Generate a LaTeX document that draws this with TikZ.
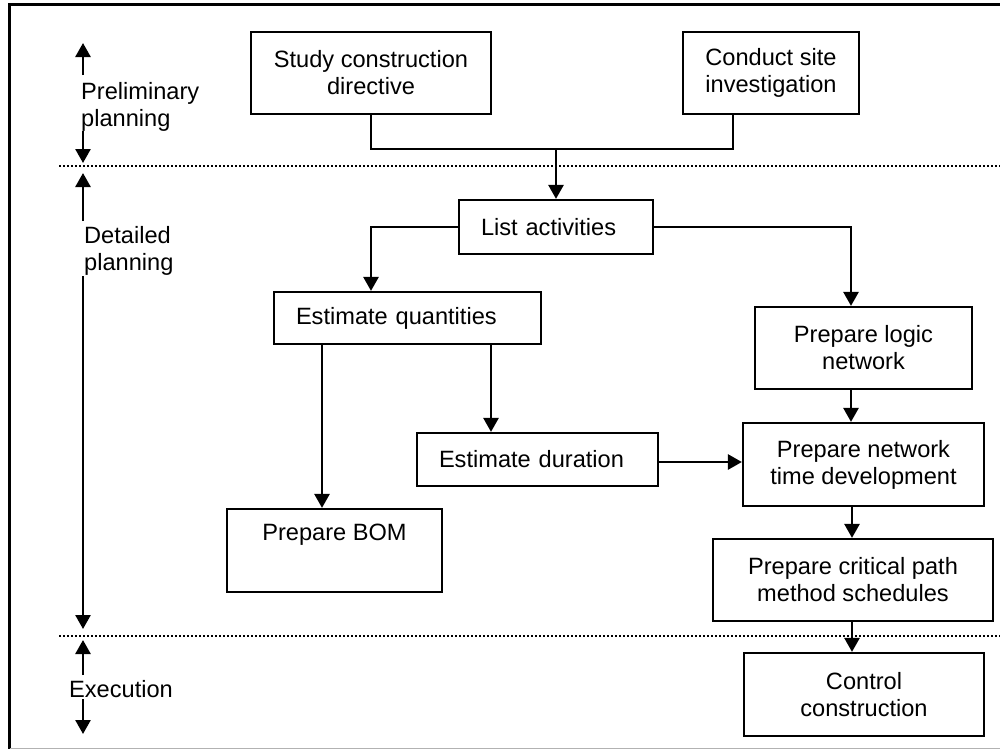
\documentclass[tikz,border=0pt]{standalone}
\usepackage{fontspec}
\setmainfont{Liberation Sans}
\usetikzlibrary{arrows.meta}
\begin{document}
\begin{tikzpicture}[x=1pt,y=-1pt,
  font=\fontsize{23.6}{27}\selectfont,
  box/.style={draw, line width=2.2pt, inner sep=0pt, align=center},
  lbox/.style={draw, line width=2.2pt, inner ysep=0pt, inner xsep=22pt, align=left},
  conn/.style={line width=2.6pt},
  arr/.style={line width=2.6pt, -{Triangle[length=14pt,width=15pt]}},
  sep/.style={line width=2.4pt, dash pattern=on 2pt off 2pt},
  side/.style={anchor=west, align=left, inner sep=0pt}]
\useasboundingbox (0,0) rectangle (1000,750);

% frame
\draw[line width=3pt] (1010,4.5) -- (9.5,4.5) -- (9.5,749);
\draw[black!30, line width=1.5pt] (9.5,748.5) -- (1010,748.5);

% phase separators
\draw[sep] (59,166) -- (1000,166);
\draw[sep] (59,636) -- (1000,636);

% phase labels
\node[side] (prel) at (81,107) {Preliminary\\planning};
\node[side] (det) at (84,251) {Detailed\\planning};
\node[side] (exe) at (69,689) {Execution};
\coordinate (p1) at (83,75);  \coordinate (p1t) at (83,43);
\coordinate (p2) at (83,131); \coordinate (p2t) at (83,163);
\coordinate (d1) at (83,221); \coordinate (d1t) at (83,173);
\coordinate (d2) at (83,276); \coordinate (d2t) at (83,629);
\coordinate (e1) at (83,675); \coordinate (e1t) at (83,640);
\coordinate (e2) at (83,699); \coordinate (e2t) at (83,734);
\draw[arr] (p1) -- (p1t);
\draw[arr] (p2) -- (p2t);
\draw[arr] (d1) -- (d1t);
\draw[arr] (d2) -- (d2t);
\draw[arr] (e1) -- (e1t);
\draw[arr] (e2) -- (e2t);

% activity boxes
\node[box, minimum width=240pt, minimum height=82pt] (study) at (371,73) {Study construction\\directive};
\node[box, minimum width=176pt, minimum height=82pt] (site) at (771,73) {Conduct site\\investigation};
\node[lbox, text width=150pt, minimum height=54pt] (list) at (556,227) {List activities};
\node[lbox, text width=223pt, minimum height=52pt] (estq) at (407.5,318) {Estimate quantities};
\node[lbox, text width=197pt, minimum height=53pt] (dur) at (537.5,459.5) {Estimate duration};
\node[box, minimum width=215pt, minimum height=83pt] (bom) at (334.5,550.5) {};
\node[inner sep=0pt] (bomtxt) at (334.5,535) {Prepare BOM};
\node[box, minimum width=217pt, minimum height=82pt] (logic) at (863.5,348) {Prepare logic\\network};
\node[box, minimum width=241pt, minimum height=83pt] (time) at (863.5,464.5) {Prepare network\\time development};
\node[box, minimum width=280pt, minimum height=82pt] (cpm) at (853,580) {Prepare critical path\\method schedules};
\node[box, minimum width=240pt, minimum height=83pt] (ctrl) at (864,694.5) {Control\\construction};

% connectors
\coordinate (join) at (556,149);
\draw[conn] (study.south) |- (join) -| ([xshift=-38pt]site.south);
\draw[arr] (join) -- (list.north);
\draw[arr] (list.west) -| ([xshift=-36.5pt]estq.north);
\draw[arr] (list.east) -| ([xshift=-12.5pt]logic.north);
\draw[arr] ([xshift=-85.5pt]estq.south) -- ([xshift=-85.5pt]estq.south |- bom.north);
\draw[arr] ([xshift=83.5pt]estq.south) -- ([xshift=83.5pt]estq.south |- dur.north);
\draw[arr] ([yshift=-2.5pt]dur.east) -- ([yshift=-2.5pt]dur.east -| time.west);
\draw[arr] ([xshift=-12.5pt]logic.south) -- ([xshift=-12.5pt]logic.south |- time.north);
\draw[arr] ([xshift=-11.5pt]time.south) -- ([xshift=-11.5pt]time.south |- cpm.north);
\draw[arr] ([xshift=-1pt]cpm.south) -- ([xshift=-1pt]cpm.south |- ctrl.north);
\end{tikzpicture}
\end{document}
